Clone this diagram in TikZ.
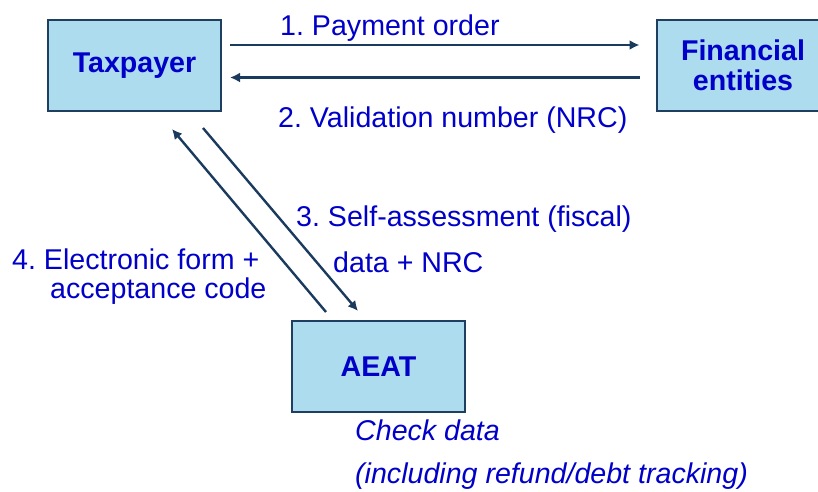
\documentclass[tikz,border=0pt]{standalone}
\usepackage{fontspec}
\setmainfont{Liberation Sans}
\usepackage{tikz}
\usetikzlibrary{arrows.meta,positioning,calc}
\definecolor{boxfill}{HTML}{ADDCEF}
\definecolor{boxline}{HTML}{1F3F60}
\definecolor{txtblue}{HTML}{0000C8}
\definecolor{arrowc}{HTML}{1B3B5E}
\frenchspacing
\tikzset{
  party/.style={draw=boxline,line width=2pt,fill=boxfill,inner sep=0pt,
    minimum width=173pt,minimum height=91pt,align=center,text=txtblue,
    font=\fontsize{28.6}{30}\selectfont\bfseries},
  msg/.style={anchor=base west,inner sep=0pt,text=txtblue,
    font=\fontsize{28.6}{30}\selectfont},
  note/.style={msg,font=\fontsize{28.6}{30}\selectfont\itshape},
  flow/.style={-{Latex[length=10pt,width=10pt]},line width=2.4pt,draw=arrowc},
}
\begin{document}
\begin{tikzpicture}[x=1pt,y=-1pt]
  \useasboundingbox (0,0) rectangle (818,491);
  % the three parties
  \node[party] (tax) at (134.5,65.5) {Taxpayer};
  \node[party] (fin) at (743,65.5) {Financial\\entities};
  \node[party] (aeat) at (378.5,366.5) {AEAT};
  % messages
  \draw[flow] ([xshift=8pt,yshift=20.5pt]tax.east) -- ([xshift=-16pt,yshift=20.5pt]fin.west);
  \draw[flow] ([xshift=-16pt,yshift=-12pt]fin.west) -- ([xshift=8pt,yshift=-12pt]tax.east);
  \draw[flow] ([xshift=68.5pt,yshift=-16pt]tax.south) -- ([xshift=-20.5pt,yshift=9pt]aeat.north);
  \draw[flow] ([xshift=-52.5pt,yshift=8pt]aeat.north) -- ([xshift=37.5pt,yshift=-17pt]tax.south);
  % labels
  \node[msg] (m1) at (280,35) {1. Payment order};
  \node[msg] (m2) at (278,127) {2. Validation number (NRC)};
  \node[msg] (m3) at (296,226) {3. Self-assessment (fiscal)};
  \node[msg] (m3b) at (333,272) {data + NRC};
  \node[msg] (m4) at (12,269) {4. Electronic form +};
  \node[msg] (m4b) at (50,298) {acceptance code};
  \node[note] (chk) at (355,440) {Check data};
  \node[note] (chkb) at (355,483) {(including refund/debt tracking)};
\end{tikzpicture}
\end{document}
